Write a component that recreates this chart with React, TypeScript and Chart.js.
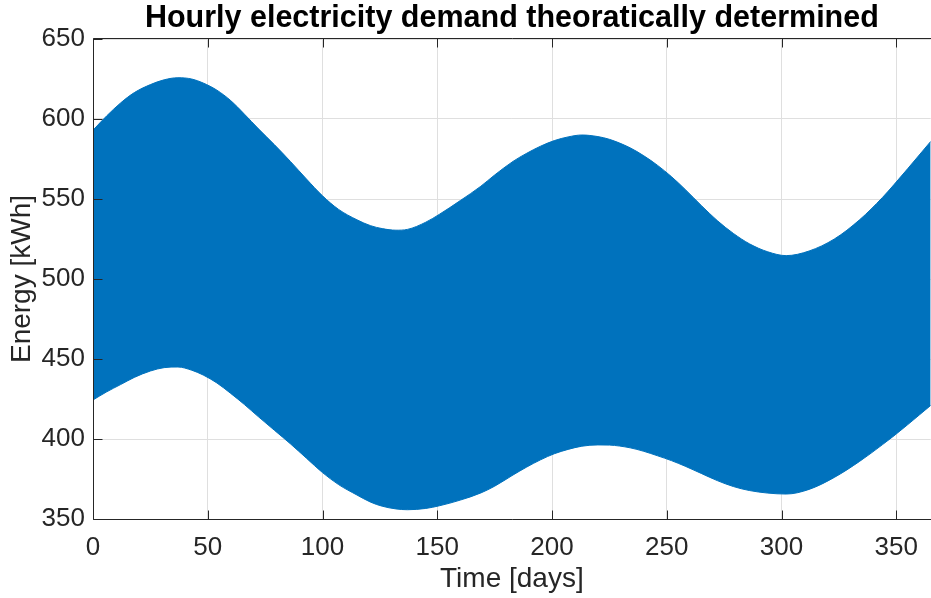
import React, { useEffect, useRef } from "react";
import { Chart, registerables } from "chart.js";

Chart.register(...registerables);

const TITLE = "Hourly electricity demand theoratically determined";
const X_LABEL = "Time [days]";
const Y_LABEL = "Energy [kWh]";

// Day positions at which the envelope of the hourly demand band was read
const DAYS = [0, 6, 12, 18, 25, 31, 37, 43, 48, 54, 60, 66, 72, 79, 86, 93, 100, 107, 115, 121, 126, 132, 137, 145, 151, 160, 169, 175, 183, 189, 195, 201, 207, 213, 220, 225, 234, 240, 246, 252, 258, 265, 272, 279, 286, 294, 302, 312, 323, 334, 344, 349, 355, 360, 365];
// Upper envelope (daily maxima) [kWh]
const UPPER = [593, 602, 610, 616.5, 621.5, 624.5, 625.8, 625, 622.5, 618, 611.5, 603, 594, 584, 573.5, 562.5, 552, 543.5, 537, 533.3, 531.5, 530.5, 531, 535.5, 540.5, 549, 558, 565, 573.5, 578.6, 583, 586.5, 588.8, 590, 589, 587.3, 582, 577, 571, 564, 556, 546, 536.5, 528.5, 522, 517, 514.6, 517.5, 525, 537, 551, 559, 569, 577.5, 586];
// Lower envelope (daily minima) [kWh]
const LOWER = [424.4, 429.5, 434, 438.5, 442.5, 444.6, 445, 443, 440, 435, 428.5, 421.5, 414, 405.5, 397, 388, 379, 371.5, 365, 360.5, 358, 356.3, 355.8, 356.6, 358.3, 361.8, 366.3, 370.5, 377.5, 382.5, 387, 390.8, 393.5, 395.5, 396.3, 396.2, 394.5, 392.3, 389.5, 386.5, 383, 378.5, 374, 370.3, 367.8, 366.2, 365.6, 368.5, 376, 386, 396.5, 402, 409, 415, 421];

const X_TICKS = [0, 50, 100, 150, 200, 250, 300, 350];
const Y_TICKS = [350, 400, 450, 500, 550, 600, 650];
const X_MIN = 0;
const X_MAX = 365;
const Y_MIN = 350;
const Y_MAX = 650;

const FONT = "'Liberation Sans', Arial, Helvetica, sans-serif";
const BLUE = "#0072BD";
const AXIS = "#262626";
const GRID = "#dfdfdf";
const TICK_LEN = 9;

const boxPlugin = {
  id: "matlabBox",
  afterDatasetsDraw(chart: any) {
    const { ctx, chartArea: a, scales } = chart;
    const xs = scales.x;
    const ys = scales.y;
    ctx.save();
    ctx.strokeStyle = AXIS;
    ctx.lineWidth = 1;
    ctx.beginPath();
    const L = Math.round(a.left) + 0.5;
    const T = Math.round(a.top) - 0.5;
    const B = Math.round(a.bottom) + 0.5;
    const R = a.right + 2;
    ctx.moveTo(L, T);
    ctx.lineTo(L, B);
    ctx.moveTo(L, B);
    ctx.lineTo(R, B);
    ctx.moveTo(L, T);
    ctx.lineTo(R, T);
    X_TICKS.forEach((v) => {
      const px = Math.round(xs.getPixelForValue(v)) + 0.5;
      ctx.moveTo(px, B);
      ctx.lineTo(px, B - TICK_LEN);
      ctx.moveTo(px, T);
      ctx.lineTo(px, T + TICK_LEN);
    });
    Y_TICKS.forEach((v) => {
      const py = Math.round(ys.getPixelForValue(v)) + 0.5;
      ctx.moveTo(L, py);
      ctx.lineTo(L + TICK_LEN, py);
    });
    ctx.stroke();
    ctx.restore();
  },
};

export default function App() {
  const canvasRef = useRef<HTMLCanvasElement | null>(null);

  useEffect(() => {
    const canvas = canvasRef.current;
    if (!canvas) return;
    const upper = DAYS.map((d, i) => ({ x: d, y: UPPER[i] }));
    const lower = DAYS.map((d, i) => ({ x: d, y: LOWER[i] }));

    const chart = new Chart(canvas, {
      type: "line",
      data: {
        datasets: [
          {
            label: "upper",
            data: upper,
            borderColor: BLUE,
            backgroundColor: BLUE,
            borderWidth: 1,
            pointRadius: 0,
            fill: "+1",
            cubicInterpolationMode: "monotone",
          },
          {
            label: "lower",
            data: lower,
            borderColor: BLUE,
            backgroundColor: BLUE,
            borderWidth: 1,
            pointRadius: 0,
            fill: false,
            cubicInterpolationMode: "monotone",
          },
        ],
      },
      options: {
        responsive: false,
        animation: false,
        devicePixelRatio: 1,
        layout: { padding: { left: 0, right: 0, top: 0, bottom: 0 } },
        plugins: {
          legend: { display: false },
          tooltip: { enabled: false },
          title: {
            display: true,
            text: TITLE,
            fullSize: false,
            color: "#000000",
            font: { family: FONT, size: 30.5, weight: "bold", lineHeight: 1.2 },
            padding: { top: 0, bottom: 2.4 },
          },
        },
        scales: {
          x: {
            type: "linear",
            min: X_MIN,
            max: X_MAX,
            afterBuildTicks: (s: any) => {
              s.ticks = X_TICKS.map((v) => ({ value: v }));
            },
            afterFit: (s: any) => {
              s.height = 79;
            },
            ticks: {
              color: AXIS,
              font: { family: FONT, size: 26 },
              padding: 13,
              maxRotation: 0,
              autoSkip: false,
            },
            grid: { color: GRID, drawTicks: false, lineWidth: 1 },
            border: { display: false },
            title: {
              display: true,
              text: X_LABEL,
              color: AXIS,
              font: { family: FONT, size: 28, lineHeight: 1.2 },
              padding: { top: 0, bottom: 2 },
            },
          },
          y: {
            type: "linear",
            min: Y_MIN,
            max: Y_MAX,
            afterBuildTicks: (s: any) => {
              s.ticks = Y_TICKS.map((v) => ({ value: v }));
            },
            afterFit: (s: any) => {
              s.width = 93;
            },
            ticks: {
              color: AXIS,
              font: { family: FONT, size: 26 },
              padding: 8,
              autoSkip: false,
            },
            grid: { color: GRID, drawTicks: false, lineWidth: 1 },
            border: { display: false },
            title: {
              display: true,
              text: Y_LABEL,
              color: AXIS,
              font: { family: FONT, size: 28, lineHeight: 1.2 },
              padding: { top: 5, bottom: 0 },
            },
          },
        },
      },
      plugins: [boxPlugin],
    });

    return () => {
      chart.destroy();
    };
  }, []);

  return (
    <div style={{ position: "absolute", left: 0, top: 0, width: 931, height: 598, background: "#ffffff" }}>
      <canvas ref={canvasRef} width={931} height={598} style={{ display: "block" }} />
    </div>
  );
}
